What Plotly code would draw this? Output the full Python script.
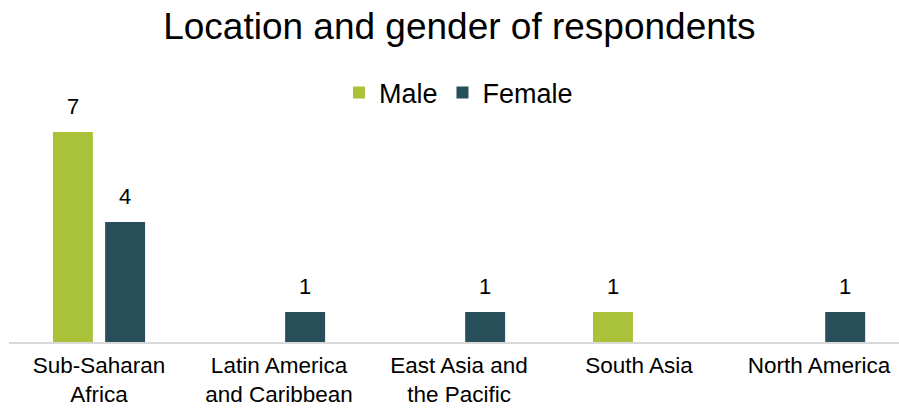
import plotly.graph_objects as go

# Respondent counts by region and gender
regions = ["Sub-Saharan<br>Africa", "Latin America<br>and Caribbean", "East Asia and<br>the Pacific",
           "South Asia", "North America"]
male = [7, None, None, 1, None]
female = [4, 1, 1, None, 1]

MALE_COLOR = "#A9C23A"
FEMALE_COLOR = "#264F5A"
FONT = "Liberation Sans, Arial, sans-serif"

BAR_W = 0.222
MALE_OFF = -0.256
FEMALE_OFF = 0.034

idx = list(range(len(regions)))

fig = go.Figure()
fig.add_trace(go.Bar(name="Male", x=idx, y=male, width=BAR_W, offset=MALE_OFF,
                     marker=dict(color=MALE_COLOR, line=dict(width=0))))
fig.add_trace(go.Bar(name="Female", x=idx, y=female, width=BAR_W, offset=FEMALE_OFF,
                     marker=dict(color=FEMALE_COLOR, line=dict(width=0))))

# value labels above each bar
annotations = []
for series, off in ((male, MALE_OFF), (female, FEMALE_OFF)):
    for i, v in zip(idx, series):
        if v is None:
            continue
        annotations.append(dict(x=i + off + BAR_W / 2, y=v, xref="x", yref="y",
                                text=str(v), showarrow=False, yanchor="bottom",
                                yshift=11, font=dict(family=FONT, size=22, color="#000000")))

fig.update_layout(
    width=899, height=408,
    margin=dict(l=9, r=0, t=102, b=66, autoexpand=False),
    paper_bgcolor="white", plot_bgcolor="white",
    barmode="overlay",
    title=dict(text="Location and gender of respondents", x=0.511, xanchor="center",
               y=0.935, yanchor="middle", yref="container",
               font=dict(family=FONT, size=37, color="#000000")),
    legend=dict(orientation="h", x=0.505, xanchor="center", y=1.0375, yanchor="middle",
                font=dict(family=FONT, size=27, color="#000000"), bgcolor="rgba(0,0,0,0)",
                itemwidth=30, tracegroupgap=0),
    xaxis=dict(tickmode="array", tickvals=idx, ticktext=regions, range=[-0.5, 4.444],
               showline=True, linecolor="#D9D9D9", linewidth=2, showgrid=False, zeroline=False,
               ticks="", ticklabelstandoff=2, automargin=False,
               tickfont=dict(family=FONT, size=22.5, color="#000000")),
    yaxis=dict(range=[0, 8], showticklabels=False, showgrid=False, zeroline=False, showline=False,
               automargin=False),
    annotations=annotations,
    showlegend=True,
)

fig.write_html("out.html")
